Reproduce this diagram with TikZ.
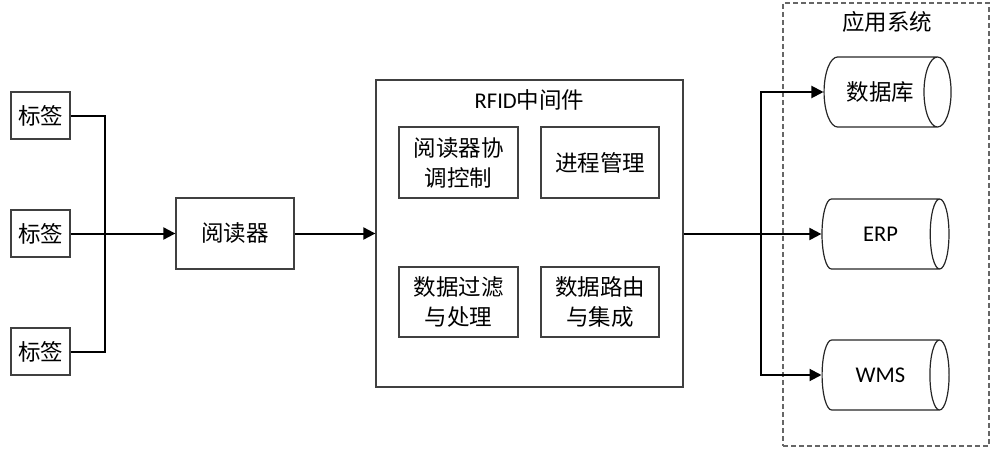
\documentclass[tikz,border=0pt]{standalone}
\usepackage{fontspec}
\setmainfont{Carlito}
\newfontfamily\cjk{Noto Sans CJK SC}
\usetikzlibrary{shapes.geometric,arrows.meta}
\tikzset{
  box/.style={draw=black!75,line width=1.3pt,fill=white,inner sep=0pt,align=center,
    font=\cjk\fontsize{22.5}{30}\selectfont},
  db/.style={draw=black!85,line width=1.2pt,cylinder,shape border rotate=0,aspect=1.3,
    minimum width=70pt,minimum height=127pt,inner sep=0pt,font=\fontsize{22.5}{24}\selectfont},
  wire/.style={line width=2pt},
  link/.style={wire,-{Triangle[length=12pt,width=12pt]}}
}
\begin{document}
\begin{tikzpicture}[x=1pt,y=-1pt]
  \useasboundingbox (0,0) rectangle (996,455);
  % tags
  \node[box,minimum width=59pt,minimum height=47pt] (tag1) at (40.5,115.5) {标签};
  \node[box,minimum width=59pt,minimum height=47pt] (tag2) at (40.5,233.5) {标签};
  \node[box,minimum width=59pt,minimum height=47pt] (tag3) at (40.5,351.5) {标签};
  \node[box,minimum width=118pt,minimum height=71pt] (reader) at (235,233.5) {阅读器};
  % middleware
  \node[box,minimum width=307pt,minimum height=307pt] (mw) at (529.5,233.5) {};
  \node[font=\fontsize{22.5}{24}\selectfont] (mwtitle) at (529.5,100) {RFID{\cjk 中间件}};
  \node[box,minimum width=119pt,minimum height=71pt] (coord) at (458.5,162.5) {阅读器协\\调控制};
  \node[box,minimum width=118pt,minimum height=71pt] (proc) at (600,162.5) {进程管理};
  \node[box,minimum width=119pt,minimum height=70pt] (filter) at (458.5,302) {数据过滤\\与处理};
  \node[box,minimum width=118pt,minimum height=70pt] (route) at (600,302) {数据路由\\与集成};
  % application systems
  \node[draw=black!60,line width=1.3pt,dash pattern=on 5pt off 3pt,minimum width=206pt,minimum height=443pt] (apps) at (886,224.5) {};
  \node[font=\cjk\fontsize{22.5}{24}\selectfont] (appstitle) at (887,22) {应用系统};
  \node[db] (db1) at (880.5,92) {\cjk 数据库};
  \node[db] (db2) at (880.5,234) {ERP};
  \node[db] (db3) at (880.5,375) {WMS};
  % connectors
  \coordinate (jl) at (105,233.5);
  \coordinate (jr) at (761,233.5);
  \draw[wire] (tag1.east) -| (jl);
  \draw[wire] (tag3.east) -| (jl);
  \draw[link] (tag2.east) -- (reader.west);
  \draw[link] (reader.east) -- (mw.west);
  \draw[wire] (mw.east) -- (jr);
  \draw[link] (jr) |- (db1.west);
  \draw[link] (jr) |- (db2.west);
  \draw[link] (jr) |- (db3.west);
\end{tikzpicture}
\end{document}
